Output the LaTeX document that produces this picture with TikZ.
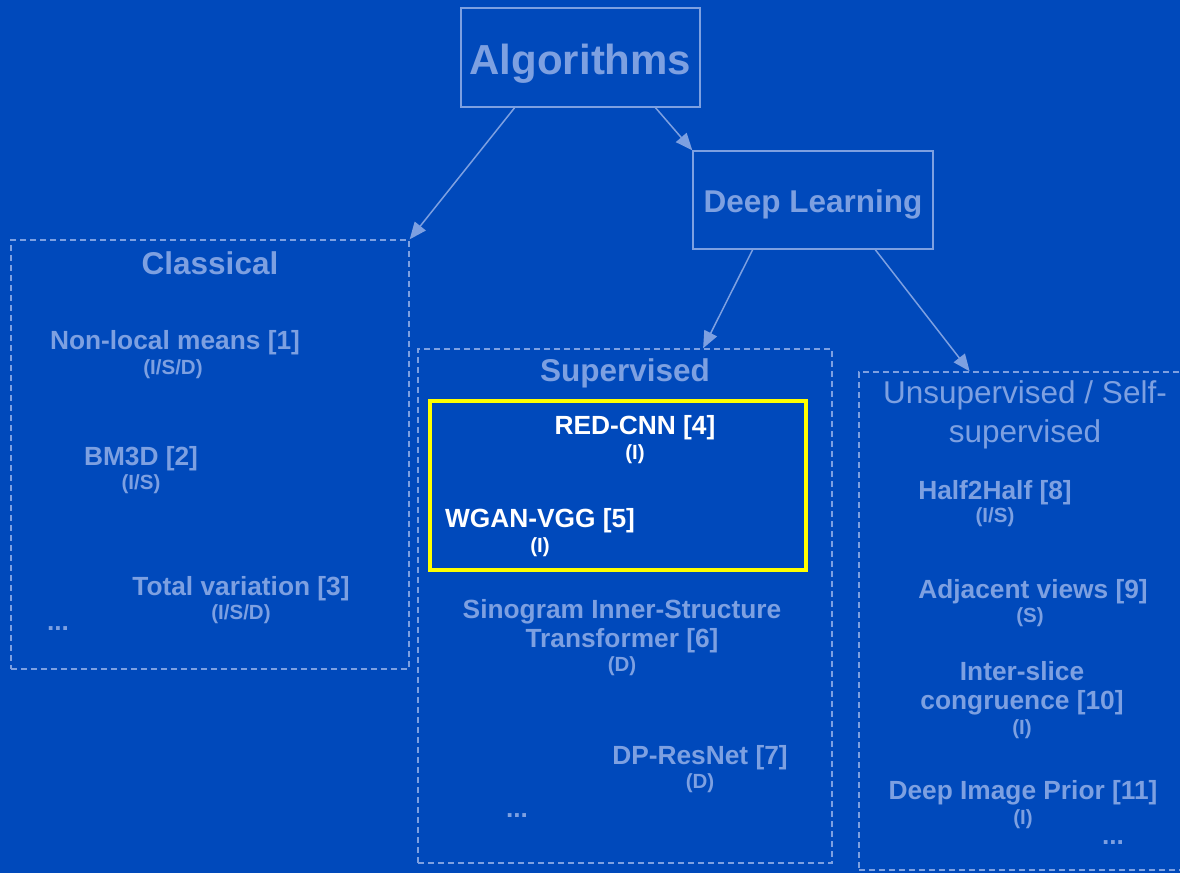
\documentclass[tikz,border=0pt]{standalone}
\usepackage{fontspec}
\setmainfont{Liberation Sans}
\usetikzlibrary{arrows.meta,calc}
\definecolor{bg}{RGB}{0,73,187}
\definecolor{lite}{RGB}{125,160,225}
\definecolor{hilite}{RGB}{255,255,0}
\tikzset{
  x=1pt,y=-1pt,
  solidbox/.style={draw=lite,line width=1.4pt,rectangle,inner sep=0pt},
  dashbox/.style={draw=lite,line width=1.4pt,dash pattern=on 6pt off 4pt,rectangle,inner sep=0pt},
  hlbox/.style={draw=hilite,line width=3.2pt,rectangle,inner sep=0pt},
  conn/.style={draw=lite,line width=1.5pt,-{Triangle[length=17pt,width=14pt]}},
  big/.style={text=lite,font=\bfseries\fontsize{42}{46}\selectfont,inner sep=0pt},
  head/.style={text=lite,font=\bfseries\fontsize{31.5}{38}\selectfont,inner sep=0pt,align=center},
  headreg/.style={text=lite,font=\fontsize{31.5}{39}\selectfont,inner sep=0pt,align=center},
  item/.style={text=lite,font=\bfseries\fontsize{26.3}{28.6}\selectfont,inner sep=0pt,align=center},
  witem/.style={text=white,font=\bfseries\fontsize{26.3}{28.6}\selectfont,inner sep=0pt,align=center},
  tag/.style={text=lite,font=\bfseries\fontsize{20.5}{22}\selectfont,inner sep=0pt},
  wtag/.style={text=white,font=\bfseries\fontsize{20.5}{22}\selectfont,inner sep=0pt},
}
\begin{document}
\begin{tikzpicture}
\fill[bg] (0,0) rectangle (1180,873);
\useasboundingbox (0,0) rectangle (1180,873);

% boxes
\node[solidbox,minimum width=239pt,minimum height=99pt] (alg) at (580.5,57.5) {};
\node[big] (algt) at (580.5,64) {Algorithms};
\node[solidbox,minimum width=240pt,minimum height=98pt] (dl) at (813,200) {};
\node[head] (dlt) at (813,204) {Deep Learning};

\node[dashbox,minimum width=398pt,minimum height=429pt] (cls) at (210,454.5) {};
\node[dashbox,minimum width=414pt,minimum height=514pt] (sup) at (625,606) {};
\node[dashbox,minimum width=331pt,minimum height=498pt] (uns) at (1024.5,621) {};
\node[hlbox,minimum width=376pt,minimum height=169pt] (yel) at (618,485.5) {};

% arrows
\draw[conn] ($(alg.south west)!0.226!(alg.south east)$) -- (cls.north east);
\draw[conn] ($(alg.south west)!0.812!(alg.south east)$) -- (dl.north west);
\draw[conn] ($(dl.south west)!0.25!(dl.south east)$) -- ($(sup.north west)!0.688!(sup.north east)$);
\draw[conn] ($(dl.south west)!0.758!(dl.south east)$) -- ($(uns.north west)!0.335!(uns.north east)$);

% Classical
\node[head] (clst) at (210,263) {Classical};
\node[item] (nlm) at (175,343) {Non-local means [1]};
\node[tag] (nlmt) at (173,369) {(I/S/D)};
\node[item] (bm3d) at (141,459) {BM3D [2]};
\node[tag] (bm3dt) at (141,484) {(I/S)};
\node[item] (tv) at (241,589) {Total variation [3]};
\node[tag] (tvt) at (241,614) {(I/S/D)};
\node[item] (cdots) at (58,629) {...};

% Supervised
\node[head] (supt) at (625,373) {Supervised};
\node[witem] (red) at (635,428) {RED-CNN [4]};
\node[wtag] (redt) at (635,454) {(I)};
\node[witem] (wgan) at (540,521) {WGAN-VGG [5]};
\node[wtag] (wgant) at (540,547) {(I)};
\node[item] (sit) at (622,626) {Sinogram Inner-Structure\\Transformer [6]};
\node[tag] (sitt) at (622,666) {(D)};
\node[item] (dpr) at (700,758) {DP-ResNet [7]};
\node[tag] (dprt) at (700,783) {(D)};
\node[item] (sdots) at (517,816) {...};

% Unsupervised
\node[headreg] (unst) at (1025,415) {Unsupervised / Self-\\supervised};
\node[item] (h2h) at (995,493) {Half2Half [8]};
\node[tag] (h2ht) at (995,517) {(I/S)};
\node[item] (adj) at (1033,592) {Adjacent views [9]};
\node[tag] (adjt) at (1030,617) {(S)};
\node[item] (isc) at (1022,688) {Inter-slice\\congruence [10]};
\node[tag] (isct) at (1022,729) {(I)};
\node[item] (dip) at (1023,793) {Deep Image Prior [11]};
\node[tag] (dipt) at (1023,819) {(I)};
\node[item] (udots) at (1113,843) {...};
\end{tikzpicture}
\end{document}
